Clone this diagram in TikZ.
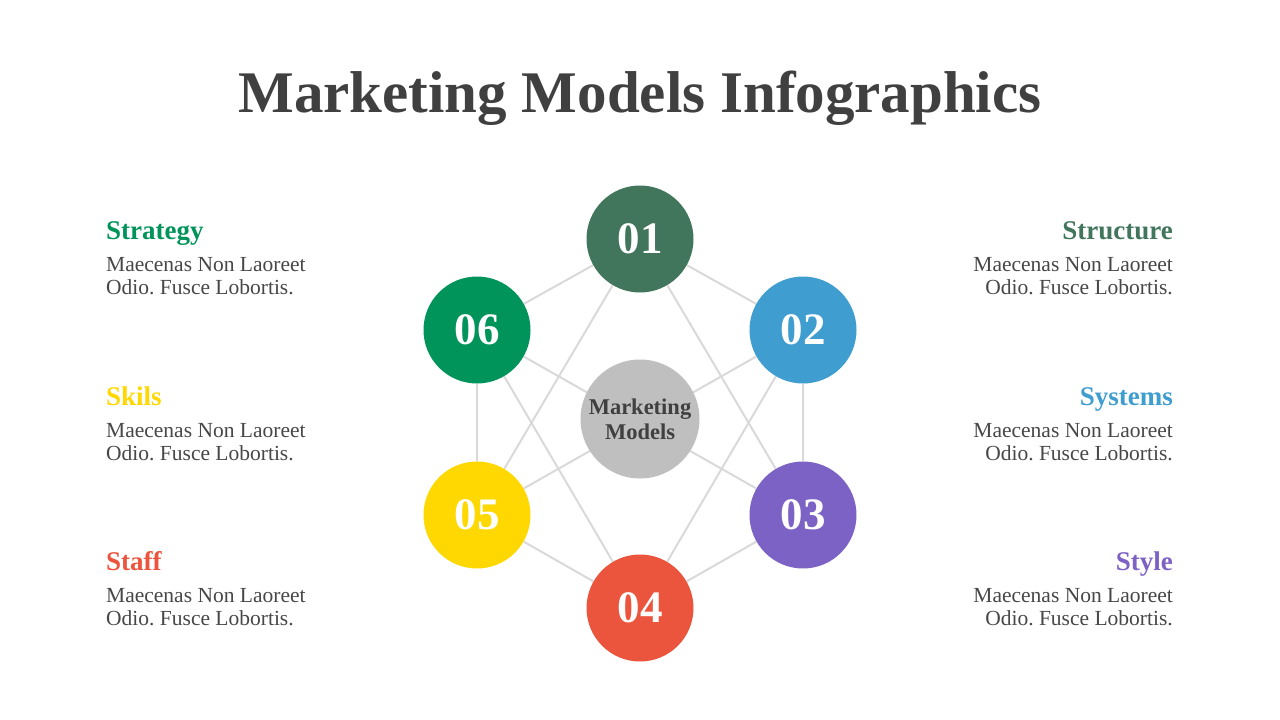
\documentclass[tikz,border=0pt]{standalone}
\usepackage{fontspec}
\setmainfont{Liberation Serif}
\usetikzlibrary{backgrounds}
\frenchspacing

\definecolor{titlegray}{HTML}{404040}
\definecolor{bodygray}{HTML}{474747}
\definecolor{linkgray}{HTML}{D9D9D9}
\definecolor{hubgray}{HTML}{BFBFBF}
\definecolor{colA}{HTML}{41755C}
\definecolor{colB}{HTML}{3F9DCF}
\definecolor{colC}{HTML}{7C62C4}
\definecolor{colD}{HTML}{EB553D}
\definecolor{colE}{HTML}{FED800}
\definecolor{colF}{HTML}{00945A}

\begin{document}
\begin{tikzpicture}[
    x = 1pt, y = -1pt,
    ball/.style = {circle, minimum size = 107pt, inner sep = 0pt, text = white,
                   font = \fontsize{45}{45}\selectfont\bfseries},
    link/.style = {draw = linkgray, line width = 2pt},
    head/.style = {inner sep = 0pt, font = \fontsize{27}{27}\selectfont\bfseries},
    body/.style = {inner sep = 0pt, text = bodygray, font = \fontsize{21.5}{23}\selectfont}
  ]
  \useasboundingbox (0,0) rectangle (1280,720);

  % title
  \node (title) [anchor = base, text = titlegray, inner sep = 0pt,
                 font = \fontsize{59}{59}\selectfont\bfseries] at (640,112)
    {Marketing Models Infographics};

  % the hexagon of numbers
  \node (hub) [circle, fill = hubgray, minimum size = 119pt, inner sep = 0pt, align = center,
               text = titlegray, font = \fontsize{22.5}{25}\selectfont\bfseries] at (640,419)
    {Marketing\\Models};
  \node (n1) [ball, fill = colA] at (640,239) {01};
  \node (n2) [ball, fill = colB] at (803,330) {02};
  \node (n3) [ball, fill = colC] at (803,515) {03};
  \node (n4) [ball, fill = colD] at (640,608) {04};
  \node (n5) [ball, fill = colE] at (477,515) {05};
  \node (n6) [ball, fill = colF] at (477,330) {06};

  % grey links behind the circles
  \begin{scope}[on background layer]
    \draw [link] (n1) -- (n2) -- (n3) -- (n4) -- (n5) -- (n6) -- (n1);
    \draw [link] (n1) -- (n3);
    \draw [link] (n1) -- (n5);
    \draw [link] (n2) -- (n4);
    \draw [link] (n6) -- (n4);
    \draw [link] (n6) -- (n3);
    \draw [link] (n2) -- (n5);
  \end{scope}

  % left texts
  \node (strat) [head, text = colF, anchor = base west] at (106,239) {Strategy};
  \node (stratTxt) [body, align = left, anchor = north west] at (106,257.5)
    {Maecenas Non Laoreet\\Odio. Fusce Lobortis.};
  \node (skil) [head, text = colE, anchor = base west] at (106,405) {Skils};
  \node (skilTxt) [body, align = left, anchor = north west] at (106,423.5)
    {Maecenas Non Laoreet\\Odio. Fusce Lobortis.};
  \node (staff) [head, text = colD, anchor = base west] at (106,570) {Staff};
  \node (staffTxt) [body, align = left, anchor = north west] at (106,588.5)
    {Maecenas Non Laoreet\\Odio. Fusce Lobortis.};

  % right texts
  \node (struct) [head, text = colA, anchor = base east] at (1173,239) {Structure};
  \node (structTxt) [body, align = right, anchor = north east] at (1173,257.5)
    {Maecenas Non Laoreet\\Odio. Fusce Lobortis.};
  \node (sys) [head, text = colB, anchor = base east] at (1173,405) {Systems};
  \node (sysTxt) [body, align = right, anchor = north east] at (1173,423.5)
    {Maecenas Non Laoreet\\Odio. Fusce Lobortis.};
  \node (style) [head, text = colC, anchor = base east] at (1173,570) {Style};
  \node (styleTxt) [body, align = right, anchor = north east] at (1173,588.5)
    {Maecenas Non Laoreet\\Odio. Fusce Lobortis.};
\end{tikzpicture}
\end{document}
